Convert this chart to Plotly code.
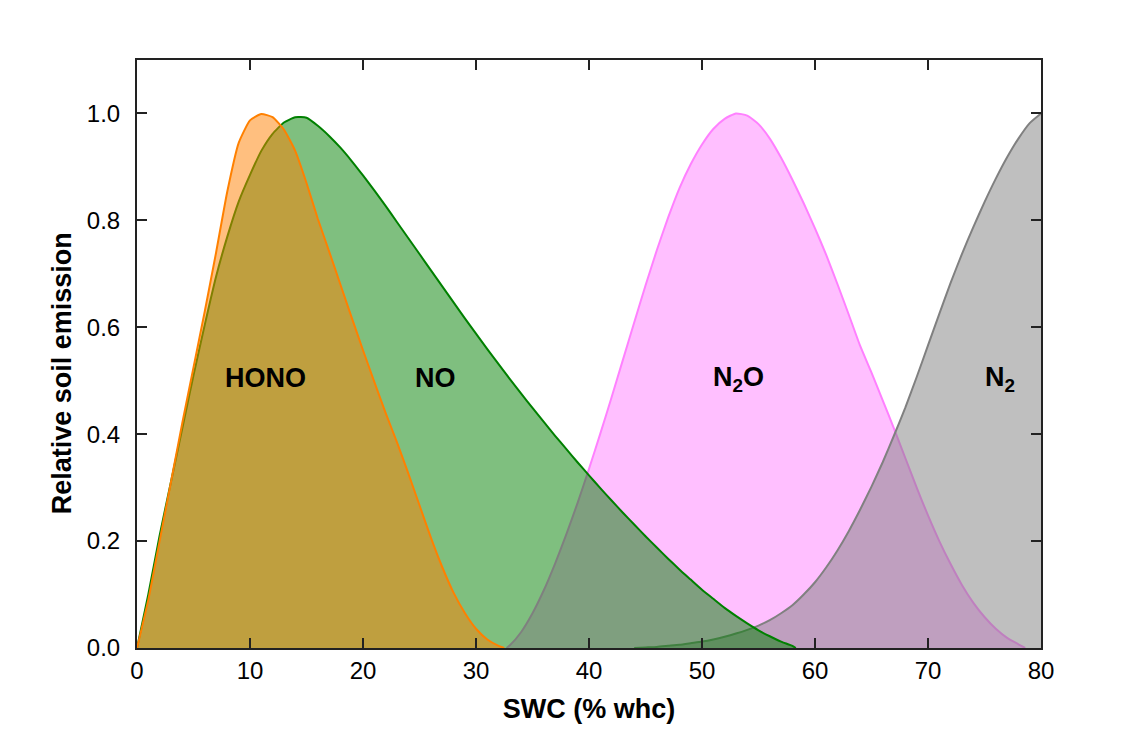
import plotly.graph_objects as go

# Relative emission curves vs soil water content (% water holding capacity)
hono_x = [0, 1, 2, 3, 4, 5, 6, 7, 8, 9, 10, 11, 12, 13, 14, 15, 16, 17, 18, 19, 20,
          21, 22, 23, 24, 25, 26, 27, 28, 29, 30, 31, 32, 32.5]
hono_y = [0, 0.09, 0.2, 0.31, 0.42, 0.525, 0.63, 0.74, 0.855, 0.945, 0.987, 0.999, 0.993,
          0.97, 0.93, 0.87, 0.803, 0.742, 0.68, 0.618, 0.557, 0.498, 0.44, 0.385, 0.327,
          0.267, 0.207, 0.152, 0.104, 0.066, 0.036, 0.016, 0.004, 0]

no_x = [0, 1, 2, 3, 4, 5, 6, 7, 8, 9, 10, 11, 12, 13, 14, 15, 16, 17, 18, 19, 20,
        21, 22, 23, 24, 25, 26, 27, 28, 29, 30, 31, 32, 33, 34, 35, 36, 37, 38, 39, 40,
        41, 42, 43, 44, 45, 46, 47, 48, 49, 50, 51, 52, 53, 54, 55, 56, 57, 58, 58.3]
no_y = [0, 0.10, 0.21, 0.31, 0.41, 0.51, 0.605, 0.695, 0.77, 0.835, 0.885, 0.93, 0.962,
        0.983, 0.993, 0.992, 0.977, 0.958, 0.936, 0.911, 0.884, 0.856, 0.827, 0.797, 0.767,
        0.737, 0.707, 0.677, 0.647, 0.617, 0.588, 0.559, 0.531, 0.503, 0.476, 0.449, 0.423,
        0.397, 0.372, 0.347, 0.323, 0.299, 0.276, 0.253, 0.231, 0.209, 0.188, 0.167, 0.147,
        0.128, 0.109, 0.092, 0.075, 0.06, 0.046, 0.033, 0.022, 0.012, 0.004, 0]

n2o_x = [32.7, 33, 34, 35, 36, 37, 38, 39, 40, 41, 42, 43, 44, 45, 46, 47, 48, 49, 50,
         51, 52, 53, 54, 55, 56, 57, 58, 59, 60, 61, 62, 63, 64, 65, 66, 67, 68, 69, 70,
         71, 72, 73, 74, 75, 76, 77, 78, 78.6]
n2o_y = [0, 0.005, 0.03, 0.065, 0.108, 0.158, 0.213, 0.272, 0.335, 0.401, 0.469, 0.539,
         0.609, 0.678, 0.744, 0.805, 0.86, 0.905, 0.942, 0.971, 0.99, 1.0, 0.996, 0.98,
         0.953, 0.917, 0.876, 0.832, 0.785, 0.735, 0.68, 0.623, 0.565, 0.515, 0.463, 0.41,
         0.355, 0.3, 0.248, 0.2, 0.157, 0.118, 0.085, 0.058, 0.036, 0.019, 0.007, 0]

n2_x = [44, 45, 46, 47, 48, 49, 50, 51, 52, 53, 54, 55, 56, 57, 58, 59, 60, 61, 62, 63,
        64, 65, 66, 67, 68, 69, 70, 71, 72, 73, 74, 75, 76, 77, 78, 79, 80]
n2_y = [0, 0.001, 0.002, 0.004, 0.006, 0.009, 0.012, 0.016, 0.021, 0.027, 0.034, 0.042,
        0.052, 0.065, 0.08, 0.1, 0.123, 0.151, 0.183, 0.219, 0.259, 0.302, 0.348, 0.398,
        0.45, 0.507, 0.566, 0.625, 0.683, 0.737, 0.787, 0.834, 0.878, 0.918, 0.953, 0.982,
        1.0]

x_ticks = [0, 10, 20, 30, 40, 50, 60, 70, 80]
y_ticks = [0.0, 0.2, 0.4, 0.6, 0.8, 1.0]

# label text, x, y
labels = [("HONO", 11.4, 0.505), ("NO", 26.4, 0.505),
          ("N<sub>2</sub>O", 53.2, 0.503), ("N<sub>2</sub>", 76.4, 0.503)]

FONT = "Liberation Sans, Arial"

fig = go.Figure()

series = [
    (n2o_x, n2o_y, "#FF80FF", "rgba(255,128,255,0.5)"),
    (n2_x, n2_y, "#808080", "rgba(128,128,128,0.5)"),
    (no_x, no_y, "#008000", "rgba(0,128,0,0.5)"),
    (hono_x, hono_y, "#FF8000", "rgba(255,128,0,0.5)"),
]
for xs, ys, lc, fc in series:
    fig.add_trace(go.Scatter(x=xs, y=ys, mode="lines", fill="tozeroy",
                             line=dict(color=lc, width=2, shape="spline", smoothing=0.5),
                             fillcolor=fc, showlegend=False, hoverinfo="skip"))

for text, lx, ly in labels:
    fig.add_annotation(x=lx, y=ly, text=f"<b>{text}</b>", showarrow=False,
                       font=dict(family=FONT, size=27, color="black"),
                       xanchor="center", yanchor="middle")

# y-axis title placed as a rotated annotation
fig.add_annotation(xref="paper", yref="paper", x=-0.082, y=0.467,
                   text="<b>Relative soil emission</b>", textangle=-90, showarrow=False,
                   font=dict(family=FONT, size=27, color="black"),
                   xanchor="center", yanchor="middle")

axis_common = dict(showline=True, linecolor="#222222", linewidth=2, mirror="ticks",
                   ticks="inside", ticklen=10, tickwidth=2, tickcolor="#222222",
                   showgrid=False, zeroline=False,
                   tickfont=dict(family=FONT, size=24, color="black"))

fig.update_xaxes(range=[0, 80], tickvals=x_ticks,
                 title=dict(text="<b>SWC (% whc)</b>", standoff=16,
                            font=dict(family=FONT, size=27, color="black")),
                 **axis_common)
fig.update_yaxes(range=[0, 1.1], tickvals=y_ticks, tickformat=".1f",
                 ticklabelstandoff=10, **axis_common)

fig.update_layout(width=1128, height=754,
                  margin=dict(l=137, r=87, t=60, b=106),
                  paper_bgcolor="white", plot_bgcolor="white")

fig.write_html("out.html")
